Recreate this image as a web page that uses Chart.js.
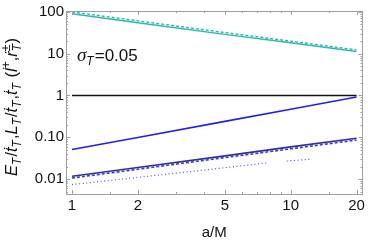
<!DOCTYPE html>
<html><head><meta charset="utf-8">
<script src="https://cdn.jsdelivr.net/npm/chart.js@4"></script>
<style>html,body{margin:0;padding:0;background:#fff}#c{display:block}</style>
</head><body>
<canvas id="c" width="368" height="242"></canvas>
<script>
const aM = [1, 2, 5, 10, 20];
const cyanSolid = [90, 55, 29, 18.2, 11.3];
const cyanDashed = [100, 61, 32, 20, 12.3];
const blackLine = [1, 1, 1, 1, 1];
const blueSolid = [0.051, 0.099, 0.24, 0.47, 0.92];
const navySolid = [0.0117, 0.019, 0.036, 0.059, 0.095];
const blueDashed = [0.0106, 0.0172, 0.0327, 0.053, 0.086];
const dottedX = [1, 2, 5, 7.85, 8.7, 9.6, 12.2];
const dottedY = [0.0074, 0.011, 0.0187, 0.0245, null, 0.027, 0.0297];
const xMajor = [1, 2, 5, 10, 20];
const xMinor = [1.5, 3, 4, 6, 7, 8, 9, 15];
const yMajor = [0.01, 0.1, 1, 10, 100];
const yLabels = {0.01: '0.01', 0.1: '0.10', 1: '1', 10: '10', 100: '100'};

const pts = (xs, ys) => xs.map((x, i) => ({x, y: ys[i]}));
const ds = (data, color, dash, width) => ({data, borderColor: color, borderDash: dash || [], borderWidth: width || 1.4, pointRadius: 0, fill: false, tension: 0, spanGaps: false});

const ticksPlugin = {
  id: 'ticksPlugin',
  afterDraw(chart) {
    const ctx = chart.ctx, a = chart.chartArea, xs = chart.scales.x, ys = chart.scales.y;
    ctx.save();
    ctx.strokeStyle = '#a0a0a0';
    ctx.lineWidth = 1;
    const line = (x1, y1, x2, y2) => { ctx.beginPath(); ctx.moveTo(x1, y1); ctx.lineTo(x2, y2); ctx.stroke(); };
    xMajor.forEach(v => { const p = Math.round(xs.getPixelForValue(v)) + 0.5; line(p, a.bottom, p, a.bottom - 4); line(p, a.top, p, a.top + 4); });
    xMinor.forEach(v => { const p = Math.round(xs.getPixelForValue(v)) + 0.5; line(p, a.bottom, p, a.bottom - 2); line(p, a.top, p, a.top + 2); });
    for (let d = 0.001; d <= 100; d *= 10) {
      for (let k = 1; k <= 9; k++) {
        const v = d * k;
        if (v < ys.min || v > ys.max) continue;
        const p = Math.round(ys.getPixelForValue(v)) + 0.5;
        const len = k === 1 ? 4 : 2;
        line(a.left, p, a.left + len, p); line(a.right, p, a.right - len, p);
      }
    }
    ctx.restore();
    // annotation
    ctx.save();
    ctx.fillStyle = '#111';
    ctx.textBaseline = 'alphabetic';
    let x = 77, y = 61;
    ctx.font = 'italic 19px "Liberation Serif"';
    ctx.fillText('σ', x, y); x += ctx.measureText('σ').width;
    ctx.font = 'italic 12px "Liberation Sans"';
    ctx.fillText('T', x, y + 4); x += ctx.measureText('T').width + 1;
    ctx.font = '17px "Liberation Sans"';
    ctx.fillText('=0.05', x, y);
    ctx.restore();
    // y axis label
    ctx.save();
    ctx.translate(17, 107);
    ctx.rotate(-Math.PI / 2);
    ctx.fillStyle = '#111';
    const parts = [
      ['E', 'i'], ['T', 'is'], ['/', 'n'], ['ṫ', 'i'], ['T', 'is'], [',', 'n'],
      ['L', 'i'], ['T', 'is'], ['/', 'n'], ['ṫ', 'i'], ['T', 'is'], [',', 'n'],
      ['ṫ', 'i'], ['T', 'is'], [' (', 'n'], ['l̇', 'i'], ['+', 'sup'], [',', 'n'],
      ['ṙ', 'i'], ['±T', 'supsub'], [')', 'n']
    ];
    const fontFor = t => t === 'i' ? 'italic 16.5px "Liberation Sans"' : t === 'n' ? '16.5px "Liberation Sans"' : t === 'is' ? 'italic 12px "Liberation Sans"' : '12px "Liberation Sans"';
    const widths = parts.map(p => {
      if (p[1] === 'supsub') { ctx.font = '12px "Liberation Sans"'; return ctx.measureText('±').width + 1; }
      ctx.font = fontFor(p[1]); return ctx.measureText(p[0]).width + (p[1] === 'is' ? 1 : 0);
    });
    const total = widths.reduce((s, w) => s + w, 0);
    let cx = -total / 2;
    ctx.textBaseline = 'alphabetic';
    parts.forEach((p, i) => {
      if (p[1] === 'supsub') {
        ctx.font = '12px "Liberation Sans"'; ctx.fillText('±', cx, -7);
        ctx.font = 'italic 12px "Liberation Sans"'; ctx.fillText('T', cx, 4);
      } else {
        ctx.font = fontFor(p[1]);
        const dy = p[1] === 'is' ? 4 : p[1] === 'sup' ? -7 : 0;
        ctx.fillText(p[0], cx, dy);
      }
      cx += widths[i];
    });
    ctx.restore();
  }
};

new Chart(document.getElementById('c'), {
  type: 'line',
  data: {
    datasets: [
      ds(pts(aM, cyanDashed), '#2ab8b0', [3, 2]),
      ds(pts(aM, cyanSolid), '#2ab8b0'),
      ds(pts(aM, blackLine), '#111111', [], 1.5),
      ds(pts(aM, blueSolid), '#1f1ff0', [], 1.6),
      ds(pts(aM, blueDashed), '#3a3acc', [3, 2], 1.6),
      ds(pts(aM, navySolid), '#30309c', [], 1.6),
      ds(pts(dottedX, dottedY), '#5050e8', [1, 2.6], 1.2)
    ]
  },
  options: {
    responsive: false,
    animation: false,
    layout: {padding: {top: 10, right: 5, left: 0, bottom: 0}},
    plugins: {legend: {display: false}, tooltip: {enabled: false}},
    scales: {
      x: {
        type: 'logarithmic', min: 0.939, max: 21.3,
        afterBuildTicks: s => { s.ticks = xMajor.map(v => ({value: v})); },
        ticks: {callback: v => String(v), color: '#111', font: {family: '"Liberation Sans"', size: 15}, padding: 3, maxRotation: 0, autoSkip: false},
        grid: {display: true, drawOnChartArea: false, drawTicks: false},
        border: {display: true, color: '#a0a0a0', width: 1},
        title: {display: true, text: 'a/M', color: '#111', font: {family: '"Liberation Sans"', size: 15}, padding: {top: 1, bottom: 0}},
        afterFit: s => { s.height = 48; }
      },
      y: {
        type: 'logarithmic', min: 0.0044, max: 105,
        afterBuildTicks: s => { s.ticks = yMajor.map(v => ({value: v})); },
        ticks: {callback: v => yLabels[v] !== undefined ? yLabels[v] : '', color: '#111', font: {family: '"Liberation Sans"', size: 15}, padding: 2, autoSkip: false},
        grid: {display: true, drawOnChartArea: false, drawTicks: false},
        border: {display: true, color: '#a0a0a0', width: 1},
        afterFit: s => { s.width = 66; }
      },
      x2: {position: 'top', type: 'logarithmic', min: 0.939, max: 21.3, display: true, ticks: {display: false}, grid: {display: false, drawTicks: false}, border: {display: true, color: '#a0a0a0'}, afterFit: s => { s.height = 0; }},
      y2: {position: 'right', type: 'logarithmic', min: 0.0044, max: 105, display: true, ticks: {display: false}, grid: {display: false, drawTicks: false}, border: {display: true, color: '#a0a0a0'}, afterFit: s => { s.width = 0; }}
    }
  },
  plugins: [ticksPlugin]
});
</script>
</body></html>
